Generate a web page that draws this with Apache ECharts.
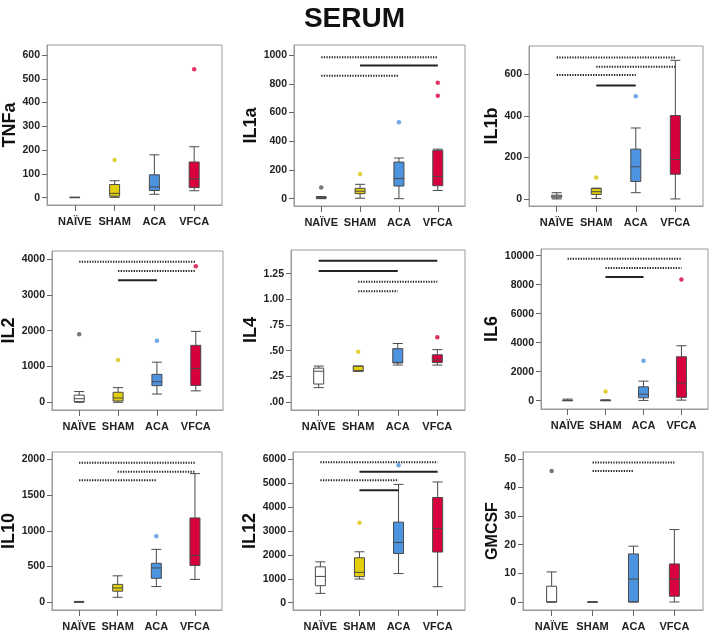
<!DOCTYPE html>
<html><head><meta charset="utf-8">
<script src="https://cdn.jsdelivr.net/npm/echarts@6/dist/echarts.min.js"></script>
<style>html,body{margin:0;padding:0;background:#fff}#c{width:709px;height:633px}</style>
</head><body><div id="c"></div>
<script>
const categories = ['NAÏVE', 'SHAM', 'ACA', 'VFCA'];

// box values per group: [min, Q1, median, Q3, max]
// outliers: [groupIndex, value]
// significance brackets: [fromGroup, toGroup, height, level] (level 1 = dotted, 2 = solid)
const tnfaBox = [[0, 0, 0.5, 1, 2], [1, 6, 18, 55, 71], [14, 30, 45, 96, 180], [29, 42, 79, 150, 214]];
const tnfaOut = [[1, 158], [3, 540]];
const tnfaSig = [];
const tnfaTicks = [0, 100, 200, 300, 400, 500, 600];

const il1aBox = [[0, 3, 7, 11, 15], [3, 35, 52, 72, 100], [0, 88, 140, 255, 283], [57, 90, 155, 336, 345]];
const il1aOut = [[0, 78], [1, 172], [2, 532], [3, 808], [3, 716]];
const il1aSig = [[0, 3, 985, 1], [1, 3, 928, 2], [0, 2, 856, 1]];
const il1aTicks = [0, 200, 400, 600, 800, 1000];

const il1bBox = [[0, 6, 13, 18, 30], [2, 22, 35, 50, 52], [30, 84, 155, 240, 342], [0, 119, 190, 402, 668]];
const il1bOut = [[1, 103], [2, 495]];
const il1bSig = [[0, 3, 681, 1], [1, 3, 637, 1], [0, 2, 597, 1], [1, 2, 547, 2]];
const il1bTicks = [0, 200, 400, 600];

const il2Box = [[0, 20, 100, 200, 300], [0, 35, 120, 280, 410], [230, 465, 575, 780, 1120], [320, 470, 940, 1590, 1980]];
const il2Out = [[0, 1900], [1, 1180], [2, 1720], [3, 3800]];
const il2Sig = [[0, 3, 3926, 1], [1, 3, 3665, 1], [1, 2, 3405, 2]];
const il2Ticks = [0, 1000, 2000, 3000, 4000];

const il4Box = [[0.14, 0.175, 0.30, 0.33, 0.35], [0.30, 0.30, 0.305, 0.35, 0.35], [0.36, 0.38, 0.385, 0.52, 0.57], [0.36, 0.385, 0.41, 0.46, 0.51]];
const il4Out = [[1, 0.49], [3, 0.63]];
const il4Sig = [[0, 3, 1.377, 2], [0, 2, 1.276, 2], [1, 3, 1.172, 1], [1, 2, 1.078, 1]];
const il4Ticks = [0, 0.25, 0.5, 0.75, 1.0, 1.25];
const il4TickLabels = ['.00', '.25', '.50', '.75', '1.00', '1.25'];

const il6Box = [[0, 5, 15, 30, 110], [0, 5, 15, 40, 60], [20, 200, 450, 960, 1350], [40, 230, 1220, 3030, 3790]];
const il6Out = [[1, 640], [2, 2750], [3, 8360]];
const il6Sig = [[0, 3, 9793, 1], [1, 3, 9149, 1], [1, 2, 8529, 2]];
const il6Ticks = [0, 2000, 4000, 6000, 8000, 10000];

const il10Box = [[0, 2, 5, 8, 12], [70, 155, 200, 250, 370], [220, 335, 480, 545, 740], [320, 515, 655, 1180, 1800]];
const il10Out = [[2, 925]];
const il10Sig = [[0, 3, 1953, 1], [1, 3, 1827, 1], [0, 2, 1706, 1]];
const il10Ticks = [0, 500, 1000, 1500, 2000];

const il12Box = [[390, 710, 1100, 1500, 1710], [990, 1090, 1270, 1880, 2130], [1220, 2060, 2520, 3370, 4950], [670, 2120, 3100, 4400, 5050]];
const il12Out = [[1, 3350], [2, 5750]];
const il12Sig = [[0, 3, 5874, 1], [1, 3, 5483, 2], [0, 2, 5121, 1], [1, 2, 4702, 2]];
const il12Ticks = [0, 1000, 2000, 3000, 4000, 5000, 6000];

const gmcsfBox = [[0, 0, 0, 5.5, 10.5], [0, 0, 0, 0, 0], [0, 0, 8, 16.8, 19.5], [0, 2, 8, 13.3, 25.3]];
const gmcsfOut = [[0, 45.8]];
const gmcsfSig = [[1, 3, 48.7, 1], [1, 2, 45.8, 1]];
const gmcsfTicks = [0, 10, 20, 30, 40, 50];

const FONT = "'Liberation Sans', Arial, sans-serif";
const boxColors = ['#ffffff', '#E3CF0C', '#4C93E0', '#D8003C'];
const outColors = ['#555555', '#D9C40A', '#4C93E0', '#D8003C'];

const panels = [
  {name: 'TNFa', box: tnfaBox, out: tnfaOut, sig: tnfaSig, ticks: tnfaTicks, min: -31, max: 642, rect: [47, 45, 175, 160], gap: 23, fs: 18},
  {name: 'IL1a', box: il1aBox, out: il1aOut, sig: il1aSig, ticks: il1aTicks, min: -51, max: 1070, rect: [294, 45, 171, 161], gap: 30, fs: 18},
  {name: 'IL1b', box: il1bBox, out: il1bOut, sig: il1bSig, ticks: il1bTicks, min: -34, max: 737, rect: [529, 46, 174, 160], gap: 24, fs: 18},
  {name: 'IL2', box: il2Box, out: il2Out, sig: il2Sig, ticks: il2Ticks, min: -215, max: 4224, rect: [52, 251, 171, 159], gap: 24, fs: 18},
  {name: 'IL4', box: il4Box, out: il4Out, sig: il4Sig, ticks: il4Ticks, tickLabels: il4TickLabels, min: -0.078, max: 1.481, rect: [291, 250, 174, 160], gap: 27, fs: 18},
  {name: 'IL6', box: il6Box, out: il6Out, sig: il6Sig, ticks: il6Ticks, min: -572, max: 10462, rect: [541, 249, 167, 160], gap: 34, fs: 18},
  {name: 'IL10', box: il10Box, out: il10Out, sig: il10Sig, ticks: il10Ticks, min: -108, max: 2102, rect: [52, 452, 170, 158], gap: 29, fs: 18},
  {name: 'IL12', box: il12Box, out: il12Out, sig: il12Sig, ticks: il12Ticks, min: -305, max: 6305, rect: [293, 452, 172, 158], gap: 30, fs: 18},
  {name: 'GMCSF', box: gmcsfBox, out: gmcsfOut, sig: gmcsfSig, ticks: gmcsfTicks, min: -2.8, max: 52.4, rect: [523, 452, 180, 158], gap: 21, fs: 16}
];

const grid = [], xAxis = [], yAxis = [], series = [];
const catIdx = categories.map((c, i) => i);

panels.forEach((p, i) => {
  grid.push({left: p.rect[0], top: p.rect[1], width: p.rect[2], height: p.rect[3],
    show: true, borderColor: '#9a9a9a', borderWidth: 1, backgroundColor: '#fff',
    containLabel: false, outerBoundsMode: 'none'});
  xAxis.push({gridIndex: i, type: 'value', min: -0.7, max: 3.7,
    axisLine: {show: true, onZero: false, lineStyle: {color: '#9a9a9a', width: 1}}, splitLine: {show: false},
    axisTick: {show: true, inside: false, customValues: catIdx, length: 6, lineStyle: {color: '#666', width: 1}},
    axisLabel: {show: true, customValues: catIdx, margin: 11, hideOverlap: false,
      formatter: v => categories[Math.round(v)] || '',
      fontFamily: FONT, fontWeight: 'bold', fontSize: 11, color: '#222'}});
  yAxis.push({gridIndex: i, type: 'value', min: p.min, max: p.max,
    axisLine: {show: true, onZero: false, lineStyle: {color: '#9a9a9a', width: 1}}, splitLine: {show: false},
    axisTick: {show: true, inside: false, customValues: p.ticks, length: 5, lineStyle: {color: '#666', width: 1}},
    axisLabel: {show: true, customValues: p.ticks, margin: 7,
      formatter: v => {
        const k = p.ticks.findIndex(t => Math.abs(t - v) < 1e-9);
        return p.tickLabels && k >= 0 ? p.tickLabels[k] : String(v);
      },
      fontFamily: FONT, fontWeight: 'bold', fontSize: 10.5, color: '#222'},
    name: p.name, nameLocation: 'middle', nameGap: p.gap, nameRotate: 90,
    nameTextStyle: {fontFamily: FONT, fontWeight: 'bold', fontSize: p.fs, color: '#111'}});

  series.push({type: 'boxplot', xAxisIndex: i, yAxisIndex: i, boxWidth: [10, 10], silent: true,
    itemStyle: {borderColor: '#4a4a4a', borderWidth: 1},
    data: p.box.map((b, k) => ({value: [k].concat(b), itemStyle: {color: boxColors[k]}}))});
  series.push({type: 'scatter', xAxisIndex: i, yAxisIndex: i, symbolSize: 4.5, silent: true,
    data: p.out.map(o => ({value: [o[0], o[1]], itemStyle: {color: outColors[o[0]]}}))});
  p.sig.forEach(s => {
    series.push({type: 'line', xAxisIndex: i, yAxisIndex: i, symbol: 'none', silent: true,
      data: [[s[0], s[2]], [s[1], s[2]]],
      lineStyle: {color: '#222', width: 2, type: s[3] === 2 ? 'solid' : [1.3, 1.3]}});
  });
});

const chart = echarts.init(document.getElementById('c'), null, {renderer: 'canvas'});
chart.setOption({
  animation: false,
  backgroundColor: '#fff',
  title: {text: 'SERUM', left: 'center', top: 0,
    textStyle: {fontFamily: FONT, fontWeight: 'bold', fontSize: 28, color: '#111'}},
  grid, xAxis, yAxis, series
});
</script>
</body></html>
